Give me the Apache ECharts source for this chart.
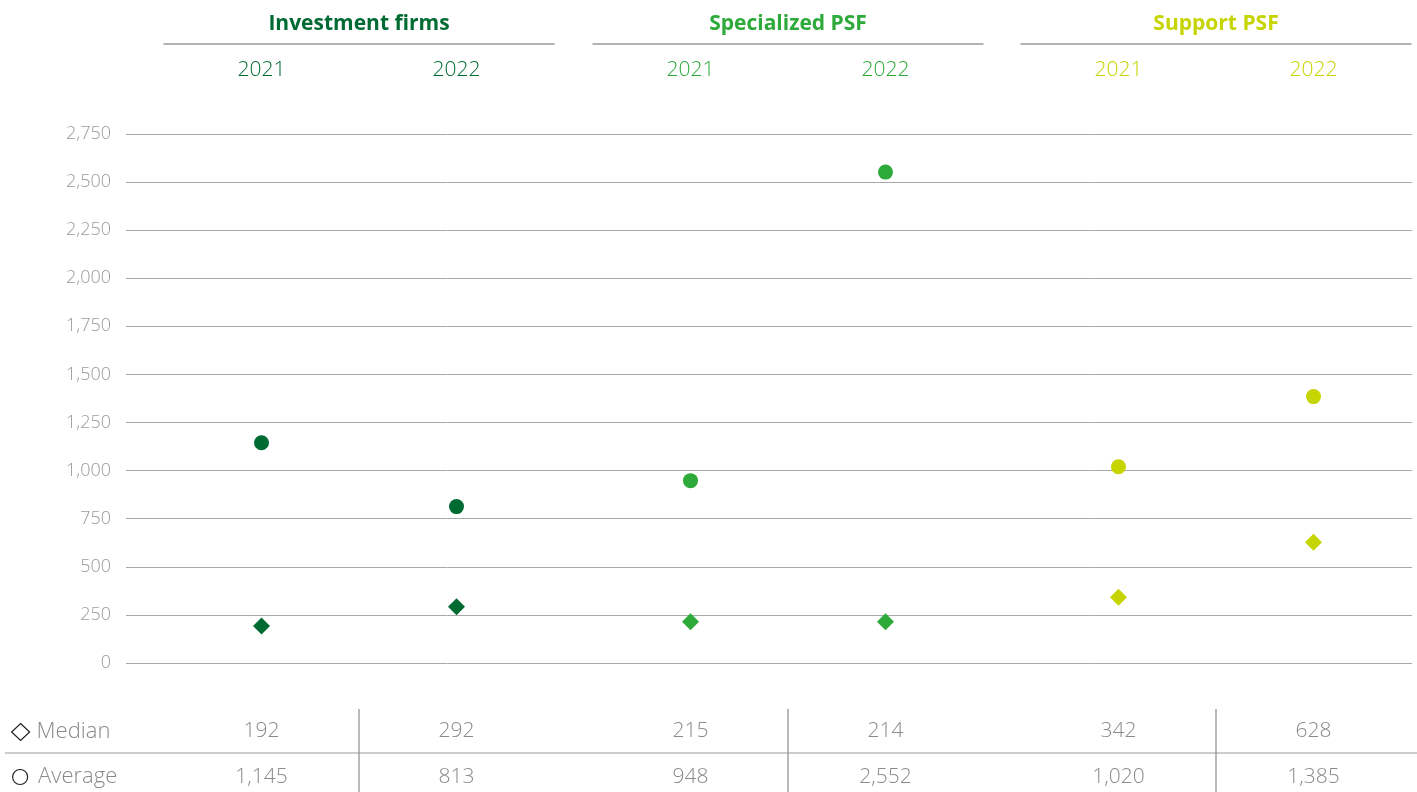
<!DOCTYPE html>
<html>
<head>
<meta charset="utf-8">
<script src="https://cdn.jsdelivr.net/npm/echarts@6/dist/echarts.min.js"></script>
<style>
  html, body { margin: 0; padding: 0; background: #fff; }
  #chart { width: 1417px; height: 792px; }
</style>
</head>
<body>
<div id="chart"></div>
<script>
// Data
const groups = ['Investment firms', 'Specialized PSF', 'Support PSF'];
const years = ['2021', '2022'];
const medianValues = [[192, 292], [215, 214], [342, 628]];
const averageValues = [[1145, 813], [948, 2552], [1020, 1385]];
const rowNames = ['Median', 'Average'];
const yMin = 0;
const yMax = 2750;
const yStep = 250;

// Styling
const groupColors = ['#006a33', '#2eaa3a', '#c6d400'];
const FONT = '"Open Sans", "Noto Sans", sans-serif';
const GRID_TOP = 134;
const GRID_BOTTOM = 129;
const GROUP_WIDTH = 390;
const GROUP_LEFTS = [164, 593, 1021];

const fmt = v => Number(v).toLocaleString('en-US');

const chart = echarts.init(document.getElementById('chart'));

const grid = [{ left: 126, right: 5, top: GRID_TOP, bottom: GRID_BOTTOM }];
const xAxis = [{ type: 'value', gridIndex: 0, show: false }];
const yAxis = [{
  type: 'value', gridIndex: 0, min: yMin, max: yMax, interval: yStep,
  axisLine: { show: false }, axisTick: { show: false },
  axisLabel: { color: '#9a9a9a', fontSize: 18, fontFamily: FONT, fontWeight: 300, margin: 15, formatter: fmt },
  splitLine: { lineStyle: { color: '#a8a8a8', width: 1 } }
}];
const series = [];

groups.forEach((g, i) => {
  const gi = i + 1;
  grid.push({ left: GROUP_LEFTS[i], width: GROUP_WIDTH, top: GRID_TOP, bottom: GRID_BOTTOM });
  yAxis.push({ type: 'value', gridIndex: gi, min: yMin, max: yMax, interval: yStep, show: false, splitLine: { show: false } });
  const topIdx = xAxis.length;
  // header axis: group name, rule, and years
  xAxis.push({
    type: 'category', gridIndex: gi, data: years, position: 'top', offset: 90,
    name: g, nameLocation: 'middle', nameGap: 9,
    nameTextStyle: { color: groupColors[i], fontSize: 21, fontWeight: 'bold', fontFamily: FONT },
    axisLine: { show: true, onZero: false, lineStyle: { color: '#999', width: 1.5 } },
    axisTick: { show: false },
    axisLabel: { inside: true, margin: 16, color: groupColors[i], fontSize: 21, fontWeight: 300, fontFamily: FONT },
    splitLine: { show: false }
  });
  // table row: median
  xAxis.push({
    type: 'category', gridIndex: gi, data: medianValues[i].map(fmt), position: 'bottom', offset: 0,
    axisLine: { show: false, onZero: false }, axisTick: { show: false },
    axisLabel: { margin: 58, color: '#8a8a8a', fontSize: 21, fontWeight: 300, fontFamily: FONT },
    splitLine: { show: false }
  });
  // table row: average
  xAxis.push({
    type: 'category', gridIndex: gi, data: averageValues[i].map(fmt), position: 'bottom', offset: 0,
    axisLine: { show: false, onZero: false }, axisTick: { show: false },
    axisLabel: { margin: 104, color: '#8a8a8a', fontSize: 21, fontWeight: 300, fontFamily: FONT },
    splitLine: { show: false }
  });
  series.push({
    name: rowNames[0], type: 'scatter', xAxisIndex: topIdx, yAxisIndex: gi,
    data: medianValues[i], symbol: 'diamond', symbolSize: 17,
    itemStyle: { color: groupColors[i], opacity: 1 }
  });
  series.push({
    name: rowNames[1], type: 'scatter', xAxisIndex: topIdx, yAxisIndex: gi,
    data: averageValues[i], symbol: 'circle', symbolSize: 15,
    itemStyle: { color: groupColors[i], opacity: 1 }
  });
});

// table rules
const graphic = [{
  type: 'line', shape: { x1: 5, y1: 753, x2: 1417, y2: 753 },
  style: { stroke: '#9a9a9a', lineWidth: 1.2 }, silent: true
}];
GROUP_LEFTS.forEach(l => {
  const x = l + GROUP_WIDTH / 2;
  graphic.push({
    type: 'line', shape: { x1: x, y1: 709, x2: x, y2: 792 },
    style: { stroke: '#8a8a8a', lineWidth: 1.2 }, silent: true
  });
});

// row keys of the table
const legendBase = {
  orient: 'horizontal', left: 6, selectedMode: false,
  itemWidth: 18, itemHeight: 17,
  itemStyle: { color: '#ffffff', borderColor: '#222', borderWidth: 1.2, opacity: 1 },
  textStyle: { color: '#8a8a8a', fontSize: 22, fontWeight: 300, fontFamily: FONT, padding: [0, 0, 0, 2] }
};
const legend = [
  Object.assign({}, legendBase, { top: 716, data: [{ name: rowNames[0], icon: 'diamond' }] }),
  Object.assign({}, legendBase, {
    top: 761, left: 7, itemWidth: 16, itemHeight: 15,
    textStyle: Object.assign({}, legendBase.textStyle, { padding: [0, 0, 0, 5] }),
    data: [{ name: rowNames[1], icon: 'circle' }]
  })
];

chart.setOption({
  animation: false,
  backgroundColor: '#ffffff',
  grid, xAxis, yAxis, series, graphic, legend
});
</script>
</body>
</html>
